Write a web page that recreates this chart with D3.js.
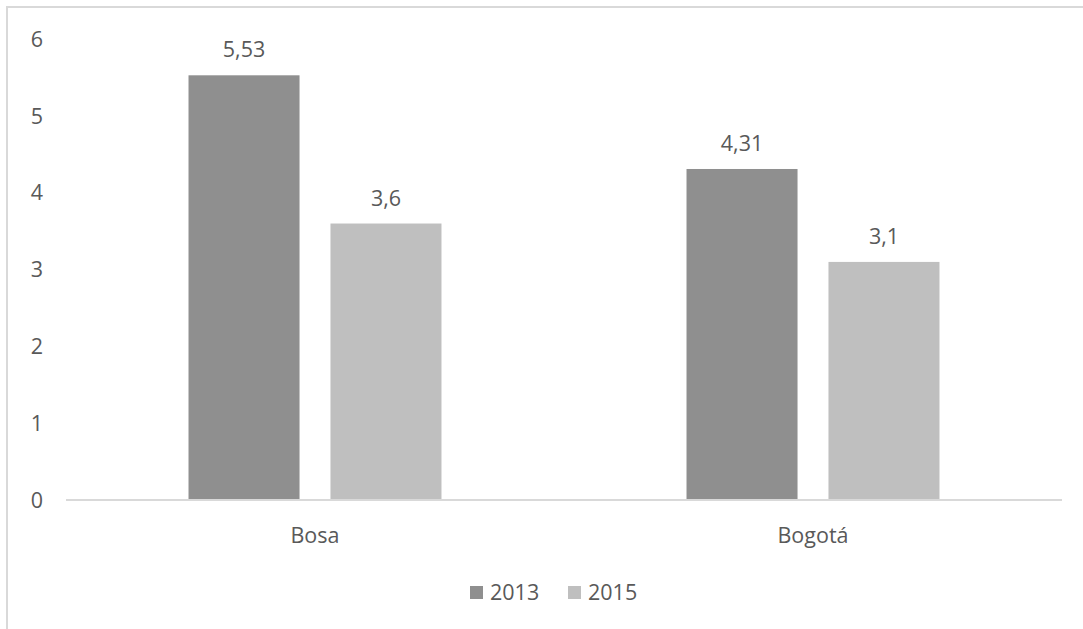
<!DOCTYPE html>
<html><head><meta charset="utf-8">
<script src="https://cdn.jsdelivr.net/npm/d3@7"></script>
<style>html,body{margin:0;padding:0;background:#fff;} svg{display:block;}</style>
</head><body>
<script>
const categories = ["Bosa", "Bogotá"];
const seriesNames = ["2013", "2015"];
const values2013 = [5.53, 4.31];
const values2015 = [3.6, 3.1];
const yTicks = [0, 1, 2, 3, 4, 5, 6];

const W = 1083, H = 629;
const svg = d3.select("body").append("svg").attr("width", W).attr("height", H);
const font = "'Open Sans', sans-serif";
const txt = "#595959";
const fs = 21.5;
const colors = ["#8f8f8f", "#bfbfbf"];

// chart border (partially cut off at right/bottom)
svg.append("rect").attr("x", 7).attr("y", 7).attr("width", W + 20).attr("height", H + 20)
  .attr("fill", "none").attr("stroke", "#d9d9d9").attr("stroke-width", 2);

const x0 = d3.scaleBand().domain(categories).range([66, 1062]);
const x1 = d3.scaleBand().domain(seriesNames).range([0, x0.bandwidth()]).paddingInner(0.218).paddingOuter(0.863);
const y = d3.scaleLinear().domain([0, 6]).range([500, 39.2]);

// y tick labels
svg.append("g").selectAll("text").data(yTicks).join("text")
  .attr("x", 43).attr("y", d => y(d)).attr("dy", "0.35em")
  .attr("text-anchor", "end").attr("font-family", font).attr("font-size", fs).attr("fill", txt)
  .text(d => d);

const series = [values2013, values2015];
const g = svg.append("g");
categories.forEach((c, i) => {
  series.forEach((vals, s) => {
    const bx = x0(c) + x1(seriesNames[s]);
    g.append("rect").attr("x", bx).attr("y", y(vals[i]))
      .attr("width", x1.bandwidth()).attr("height", y(0) - y(vals[i]))
      .attr("fill", colors[s]);
    g.append("text").attr("x", bx + x1.bandwidth() / 2).attr("y", y(vals[i]) - 18)
      .attr("text-anchor", "middle").attr("font-family", font).attr("font-size", fs).attr("fill", txt)
      .text(String(vals[i]).replace(".", ","));
  });
});

// axis line
svg.append("line").attr("x1", 66).attr("x2", 1062).attr("y1", y(0)).attr("y2", y(0))
  .attr("stroke", "#d9d9d9").attr("stroke-width", 2);

// category labels
svg.append("g").selectAll("text").data(categories).join("text")
  .attr("x", d => x0(d) + x0.bandwidth() / 2).attr("y", 535).attr("dy", "0.35em")
  .attr("text-anchor", "middle").attr("font-family", font).attr("font-size", fs).attr("fill", txt)
  .text(d => d);

// legend
const legendX = [470, 568];
seriesNames.forEach((n, i) => {
  svg.append("rect").attr("x", legendX[i]).attr("y", 586).attr("width", 13).attr("height", 13).attr("fill", colors[i]);
  svg.append("text").attr("x", legendX[i] + 20).attr("y", 592).attr("dy", "0.35em")
    .attr("font-family", font).attr("font-size", fs).attr("fill", txt).text(n);
});
</script>
</body></html>
